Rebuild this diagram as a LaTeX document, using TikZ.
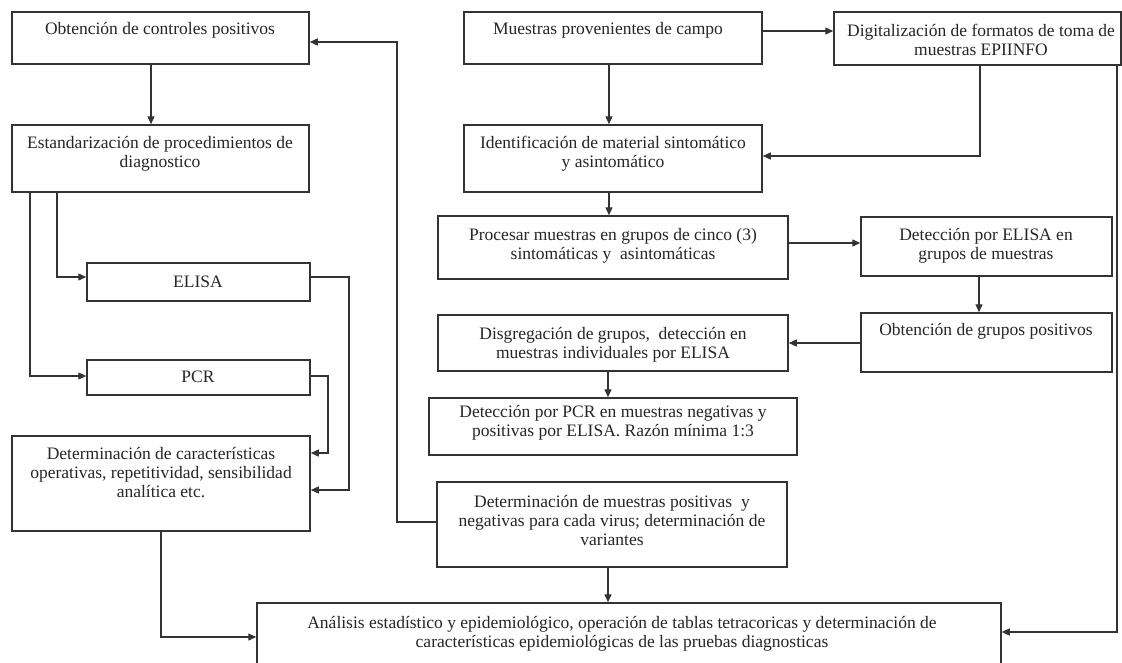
\documentclass[tikz,border=0pt]{standalone}
\usepackage{fontspec}
\setmainfont{Liberation Serif}
\usetikzlibrary{arrows.meta}
\newcommand\bx[5]{\node[box, minimum width={#4-#2}, minimum height={#5-#3}] (#1) at ({(#2+#4)/2},{(#3+#5)/2}) {};}
% #3 = baseline of the first line, #4 = number of lines
\newcommand\tx[5]{\node[txt] (#1) at (#2,{#3+(#4-1)*19}) {#5};}
\begin{document}
\begin{tikzpicture}[x=1pt,y=-1pt,
  box/.style={draw=black!80, line width=1.5pt, inner sep=0pt, fill=white},
  txt/.style={anchor=base, align=center, inner sep=0pt, text=black!85, font=\fontsize{17.5}{19}\selectfont},
  conn/.style={draw=black!80, line width=1.3pt},
  arr/.style={conn, -{Triangle[length=8pt,width=7pt]}}]
\clip (0,0) rectangle (1122,662);
\fill[white] (0,0) rectangle (1122,662);
% boxes
\bx{obt}{12}{12}{309}{64}
\bx{est}{12}{125}{309}{192}
\bx{eli}{87}{263}{310}{301}
\bx{pcr}{87}{360}{310}{395}
\bx{dca}{12}{436}{310}{531}
\bx{mue}{464}{12}{762}{64}
\bx{dig}{834}{12}{1121}{65}
\bx{ide}{464}{125}{762}{192}
\bx{pro}{438}{216}{788}{279}
\bx{del}{861}{217}{1112}{276}
\bx{ogr}{861}{313}{1112}{372}
\bx{dis}{438}{315}{788}{371}
\bx{dpc}{429}{398}{797}{455}
\bx{dmu}{437}{482}{787}{567}
\bx{ana}{257}{603}{1001}{700}
% texts
\tx{tobt}{160}{34}{1}{Obtención de controles positivos}
\tx{test}{160}{148}{2}{Estandarización de procedimientos de\\diagnostico}
\tx{teli}{198}{287}{1}{ELISA}
\tx{tpcr}{198}{382}{1}{PCR}
\tx{tdca}{161}{459}{3}{Determinación de características\\operativas, repetitividad, sensibilidad\\analítica etc.}
\tx{tmue}{608}{34}{1}{Muestras provenientes de campo}
\tx{tdig}{981}{36}{2}{Digitalización de formatos de toma de\\muestras EPIINFO}
\tx{tide}{613}{148}{2}{Identificación de material sintomático\\y asintomático}
\tx{tpro}{613}{240}{2}{Procesar muestras en grupos de cinco (3)\\sintomáticas y\ \ asintomáticas}
\tx{tdel}{986}{240}{2}{Detección por ELISA en\\grupos de muestras}
\tx{togr}{986}{335}{1}{Obtención de grupos positivos}
\tx{tdis}{613}{339}{2}{Disgregación de grupos,\ \ detección en\\muestras individuales por ELISA}
\tx{tdpc}{613}{417}{2}{Detección por PCR en muestras negativas y\\positivas por ELISA. Razón mínima 1:3}
\tx{tdmu}{612}{507}{3}{Determinación de muestras positivas\ \ y\\negativas para cada virus; determinación de\\variantes}
\tx{tana}{622}{628}{2}{Análisis estadístico y epidemiológico, operación de tablas tetracoricas y determinación de\\características epidemiológicas de las pruebas diagnosticas}
% connectors
\draw[arr] (151,0 |- obt.south) -- (151,0 |- est.north);
\draw[arr] (57,0 |- est.south) |- (eli.west |- 0,277);
\draw[arr] (30,0 |- est.south) |- (pcr.west |- 0,376);
\draw[arr] (eli.east |- 0,277) -- (349,277) |- (dca.east |- 0,490);
\draw[arr] (pcr.east |- 0,376) -- (328,376) |- (dca.east |- 0,453);
\draw[arr] (161,0 |- dca.south) |- (ana.west |- 0,637);
\draw[arr] (mue.east |- 0,31) -- (dig.west |- 0,31);
\draw[arr] (609,0 |- mue.south) -- (609,0 |- ide.north);
\draw[arr] (980,0 |- dig.south) |- (ide.east |- 0,156);
\draw[arr] (1117,0 |- dig.south) |- (ana.east |- 0,632);
\draw[arr] (609,0 |- ide.south) -- (609,0 |- pro.north);
\draw[arr] (pro.east |- 0,243) -- (del.west |- 0,243);
\draw[arr] (979,0 |- del.south) -- (979,0 |- ogr.north);
\draw[arr] (ogr.west |- 0,343) -- (dis.east |- 0,343);
\draw[arr] (608,0 |- dis.south) -- (608,0 |- dpc.north);
\draw[arr] (dmu.west |- 0,522) -- (397,522) |- (obt.east |- 0,42);
\draw[arr] (608,0 |- dmu.south) -- (608,0 |- ana.north);
\end{tikzpicture}
\end{document}
